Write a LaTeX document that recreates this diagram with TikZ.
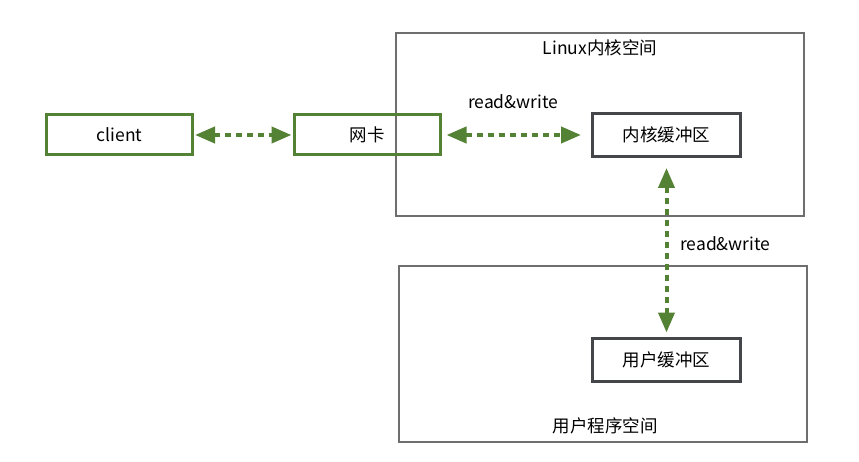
\documentclass[tikz,border=0pt]{standalone}
\usepackage{fontspec}
\setmainfont{Noto Sans CJK SC}
\usepackage{tikz}
\usetikzlibrary{positioning,arrows.meta}
\definecolor{ioGreen}{RGB}{84,130,53}
\definecolor{ioDark}{RGB}{68,70,74}
\definecolor{ioGray}{RGB}{110,110,110}

\begin{document}
\begin{tikzpicture}[
    x=1pt, y=-1pt,
    font=\fontsize{17.5}{21}\selectfont,
    region/.style={rectangle, draw=ioGray, line width=1.2pt, inner sep=0pt},
    peer/.style={rectangle, draw=ioGreen, line width=3pt, minimum width=146pt, minimum height=40pt},
    buffer/.style={rectangle, draw=ioDark, line width=3pt, minimum width=148pt, minimum height=43pt},
    io/.style={{Triangle[length=20pt,width=16pt]}-{Triangle[length=20pt,width=16pt]}, draw=ioGreen, line width=4pt, dash pattern=on 6pt off 5pt},
    io note/.style={inner sep=2pt}
]
  \useasboundingbox (0,0) rectangle (859,462);

  % the two address spaces
  \node[region, minimum width=408pt, minimum height=183pt] (kernel) at (600,124.5) {};
  \node[region, minimum width=408pt, minimum height=176pt] (user) at (603,354) {};
  \node (kernelname) at (600,48) {Linux内核空间};
  \node (username) at (605,426) {用户程序空间};

  \node[peer] (client) at (119.5,135) {client};
  \node[peer] (nic) at (367,135) {网卡};
  \node[buffer] (kbuf) at (666.5,135) {内核缓冲区};
  \node[buffer] (ubuf) at (666.5,359.5) {用户缓冲区};

  \draw[io, shorten <=1pt, shorten >=1pt] (client) -- (nic);
  \draw[io, shorten <=5pt, shorten >=10pt] (nic) -- node[io note, above=22pt, xshift=-3pt] {read\&write} (kbuf);
  \draw[io, shorten <=10pt, shorten >=4pt] (kbuf) -- (ubuf);
  \node[io note, right=12pt] (rwnote) at (666,244) {read\&write};
\end{tikzpicture}
\end{document}
